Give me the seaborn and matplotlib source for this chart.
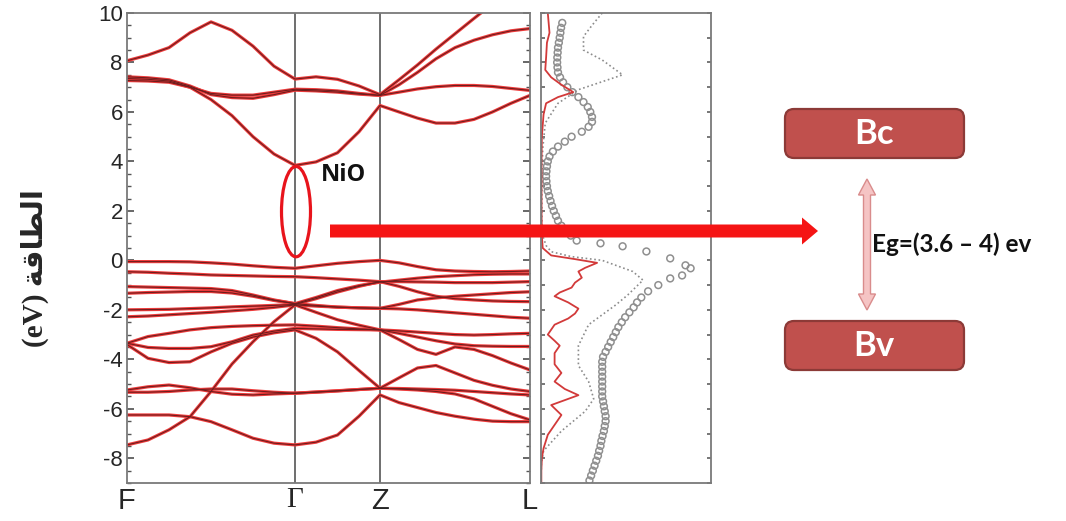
import numpy as np
import pandas as pd
import matplotlib
matplotlib.use("Agg")
import matplotlib.pyplot as plt
import seaborn as sns
from matplotlib.patches import Ellipse, FancyBboxPatch, FancyArrow, Polygon
from matplotlib.ticker import MultipleLocator

# ---------------- data ----------------
kgrid = [0.00, 0.21, 0.42, 0.63, 0.84, 1.05, 1.26, 1.47, 1.68, 1.89, 2.105, 2.32, 2.53,
         2.72, 2.905, 3.09, 3.28, 3.47, 3.655, 3.84, 4.03]
sym_k = [0.00, 1.68, 2.53, 4.03]
sym_labels = ["F", "\u0393", "Z", "L"]

c1 = [7.27, 7.25, 7.2, 7.0, 6.5, 5.85, 5.0, 4.3, 3.84, 3.98, 4.35, 5.2, 6.26, 6.0, 5.75, 5.55, 5.55, 5.7, 6.0, 6.35, 6.67]
c2 = [8.07, 8.3, 8.6, 9.2, 9.64, 9.3, 8.66, 7.85, 7.33, 7.42, 7.32, 7.05, 6.7, 7.3, 7.9, 8.54, 9.16, 9.78, 10.37, 11.0, 11.6]
c3 = [7.35, 7.32, 7.25, 7.0, 6.75, 6.68, 6.68, 6.8, 6.92, 6.9, 6.85, 6.75, 6.67, 7.1, 7.6, 8.15, 8.6, 8.9, 9.12, 9.28, 9.37]
c4 = [7.42, 7.38, 7.3, 7.05, 6.7, 6.58, 6.55, 6.7, 6.88, 6.85, 6.8, 6.72, 6.67, 6.8, 6.93, 7.02, 7.07, 7.07, 7.03, 6.95, 6.87]
v1 = [-0.05, -0.05, -0.05, -0.06, -0.1, -0.15, -0.22, -0.28, -0.32, -0.22, -0.12, -0.05, 0.0, -0.1, -0.25, -0.38, -0.43, -0.45, -0.46, -0.45, -0.43]
v2 = [-0.46, -0.48, -0.52, -0.55, -0.59, -0.61, -0.63, -0.65, -0.66, -0.7, -0.75, -0.8, -0.86, -0.86, -0.87, -0.88, -0.9, -0.9, -0.9, -0.88, -0.86]
v3 = [-1.06, -1.08, -1.1, -1.12, -1.14, -1.22, -1.4, -1.6, -1.75, -1.5, -1.22, -1.02, -0.88, -0.8, -0.72, -0.66, -0.62, -0.58, -0.56, -0.55, -0.55]
v4 = [-1.33, -1.3, -1.28, -1.26, -1.26, -1.32, -1.45, -1.62, -1.75, -1.82, -1.89, -1.92, -1.94, -1.78, -1.6, -1.52, -1.45, -1.4, -1.35, -1.3, -1.27]
v5 = [-2.0, -1.99, -1.98, -1.95, -1.92, -1.88, -1.85, -1.82, -1.78, -1.55, -1.28, -1.05, -0.86, -1.05, -1.27, -1.45, -1.55, -1.6, -1.64, -1.66, -1.67]
v6 = [-2.28, -2.25, -2.2, -2.15, -2.1, -2.04, -1.98, -1.9, -1.8, -1.85, -1.89, -1.92, -1.94, -1.96, -2.0, -2.06, -2.12, -2.18, -2.24, -2.3, -2.34]
v7 = [-3.35, -3.08, -2.95, -2.81, -2.72, -2.67, -2.64, -2.62, -2.61, -2.66, -2.72, -2.77, -2.81, -2.95, -3.1, -3.25, -3.38, -3.45, -3.47, -3.48, -3.48]
v8 = [-3.35, -3.52, -3.56, -3.56, -3.49, -3.29, -3.02, -2.86, -2.75, -2.77, -2.79, -2.8, -2.81, -3.2, -3.6, -3.8, -3.5, -3.6, -3.85, -4.15, -4.43]
v9 = [-3.4, -3.96, -4.13, -4.1, -3.7, -3.35, -3.1, -2.93, -2.81, -3.15, -3.7, -4.45, -5.17, -4.75, -4.35, -4.25, -4.55, -4.85, -5.05, -5.2, -5.3]
v10 = [-5.24, -5.11, -5.04, -5.15, -5.3, -5.41, -5.44, -5.4, -5.37, -5.33, -5.28, -5.22, -5.17, -5.18, -5.2, -5.22, -5.25, -5.3, -5.35, -5.4, -5.44]
v11 = [-5.33, -5.33, -5.3, -5.24, -5.2, -5.2, -5.27, -5.33, -5.37, -5.32, -5.27, -5.22, -5.17, -5.2, -5.24, -5.3, -5.4, -5.6, -5.9, -6.2, -6.45]
v12 = [-6.25, -6.25, -6.25, -6.32, -6.52, -6.85, -7.19, -7.39, -7.46, -7.35, -7.06, -6.3, -5.44, -5.75, -5.95, -6.15, -6.3, -6.42, -6.5, -6.52, -6.52]
v13 = [-7.46, -7.26, -6.85, -6.32, -5.3, -4.19, -3.29, -2.48, -1.8, -2.1, -2.4, -2.62, -2.81, -2.85, -2.9, -2.95, -3.0, -3.02, -3.0, -2.97, -2.95]

# DOS (arbitrary units), energies in eV
red_E = [10.0, 9.6, 9.2, 8.8, 8.2, 7.7, 7.4, 7.1, 6.8, 6.6, 6.35, 5.9, 5.0, 4.0, 2.0, 1.0, 0.5, 0.2, 0.05, -0.1,
         -0.3, -0.45, -0.7, -0.9, -1.1, -1.3, -1.45, -1.7, -1.95, -2.15, -2.35, -2.6, -3.0, -3.25, -3.45, -3.75,
         -4.2, -4.55, -4.9, -5.2, -5.45, -5.65, -5.85, -6.05, -6.25, -6.45, -6.65, -7.05, -7.6, -8.0, -8.5, -9.0]
red_dos = [0.4, 0.45, 0.5, 0.35, 0.3, 0.25, 0.6, 1.2, 1.9, 1.0, 0.3, 0.15, 0.05, 0.03, 0.03, 0.05, 0.1, 0.6, 2.0, 3.3,
           2.6, 2.2, 2.4, 2.0, 1.8, 1.1, 0.8, 1.6, 2.2, 2.0, 1.6, 0.8, 0.4, 0.8, 1.1, 0.8,
           0.8, 1.2, 0.8, 1.4, 2.2, 1.4, 0.6, 0.9, 1.2, 1.0, 0.8, 0.4, 0.15, 0.05, 0.02, 0.02]
dot_E = [10.0, 9.5, 9.05, 8.5, 8.1, 7.5, 6.9, 6.35, 5.55, 4.5, 3.0, 1.5, 1.0, 0.6, 0.35, 0.15, 0.0, -0.45, -0.8,
         -1.4, -1.8, -2.6, -3.45, -4.25, -4.9, -5.6, -6.1, -6.9, -7.7, -8.2, -9.0]
dot_dos = [3.6, 3.0, 2.5, 2.5, 3.6, 4.8, 2.2, 1.0, 0.25, 0.1, 0.05, 0.05, 0.1, 0.3, 0.6, 1.8, 3.6, 5.4, 6.0,
           5.1, 4.4, 2.8, 2.2, 2.2, 2.8, 3.1, 2.6, 1.2, 0.15, 0.02, 0.0]
circ_E = [9.6, 9.4, 9.2, 9.0, 8.8, 8.6, 8.4, 8.2, 8.0, 7.8, 7.6, 7.4, 7.2, 7.0, 6.8, 6.6, 6.4, 6.2, 6.0, 5.8,
          5.6, 5.4, 5.2, 5.0, 4.8, 4.6, 4.4, 4.2, 4.0, 3.8, 3.6, 3.4, 3.2, 3.0, 2.8, 2.6, 2.4, 2.2, 2.0, 1.8,
          1.6, 1.4, 1.2, 1.0, 0.8, 0.69, 0.57, 0.36, 0.08, -0.2, -0.32, -0.61, -0.73, -1.0, -1.25,
          -1.5, -1.7, -1.9, -2.1, -2.3, -2.5, -2.7, -2.9, -3.1, -3.3, -3.5, -3.7, -3.9, -4.1, -4.3, -4.5,
          -4.7, -4.9, -5.1, -5.3, -5.5, -5.7, -5.9, -6.1, -6.3, -6.5, -6.7, -6.9, -7.1, -7.3, -7.5, -7.7,
          -7.9, -8.1, -8.3, -8.5, -8.7, -8.9]
circ_dos = [1.25, 1.18, 1.14, 1.1, 1.05, 1.0, 0.98, 0.96, 0.95, 0.97, 1.0, 1.12, 1.3, 1.55, 1.85, 2.2, 2.5, 2.75, 2.9, 3.0,
            3.0, 2.8, 2.4, 1.8, 1.4, 1.0, 0.7, 0.5, 0.4, 0.35, 0.32, 0.3, 0.32, 0.35, 0.4, 0.48, 0.56, 0.65, 0.75, 0.88,
            1.0, 1.2, 1.45, 1.75, 2.1, 3.5, 4.8, 6.2, 7.6, 8.5, 8.8, 8.3, 7.6, 6.9, 6.3,
            5.9, 5.65, 5.45, 5.2, 4.95, 4.75, 4.55, 4.4, 4.25, 4.1, 3.95, 3.8, 3.65, 3.6, 3.6, 3.6,
            3.6, 3.6, 3.6, 3.6, 3.6, 3.65, 3.7, 3.75, 3.8, 3.8, 3.75, 3.7, 3.62, 3.55, 3.5, 3.42,
            3.35, 3.25, 3.15, 3.05, 2.95, 2.85]

ylabel_text = "(eV) \uFE94\uFED7\uFE8E\uFEC4\uFEDF\uFE8D"   # الطاقة (eV), pre-shaped for display
gap_text = "Eg=(3.6 \u2013 4) ev"

# ---------------- style ----------------
sns.set_theme(style="white")
plt.rcParams["font.family"] = ["Liberation Sans", "DejaVu Sans"]
plt.rcParams["axes.unicode_minus"] = False

bands = [c1, c2, c3, c4, v1, v2, v3, v4, v5, v6, v7, v8, v9, v10, v11, v12, v13]
df = pd.DataFrame({
    "k": np.tile(kgrid, len(bands)),
    "E": np.concatenate(bands),
    "band": np.repeat(np.arange(len(bands)), len(kgrid)),
})

fig = plt.figure(figsize=(10.66, 5.21), dpi=100)
W, H = 1066.0, 521.0
ax = fig.add_axes([127 / W, 38 / H, 403 / W, 470 / H])
axd = fig.add_axes([541 / W, 38 / H, 170 / W, 470 / H])

# band structure
sns.lineplot(data=df, x="k", y="E", units="band", estimator=None, sort=False,
             color="#ee3b3b", lw=2.3, ax=ax, solid_joinstyle="round")
sns.lineplot(data=df, x="k", y="E", units="band", estimator=None, sort=False,
             color="#6e1d1d", lw=0.8, ax=ax, solid_joinstyle="round")
for kk in sym_k[1:3]:
    ax.axvline(kk, color="#555555", lw=1.2, zorder=0)
ax.set_xlim(sym_k[0], sym_k[-1])
ax.set_ylim(-9, 10)
ax.set_xlabel("")
ax.set_ylabel("")
ax.set_yticks(range(-8, 11, 2))
ax.yaxis.set_minor_locator(MultipleLocator(0.5))
ax.tick_params(axis="y", which="both", direction="in", left=True, right=True, labelsize=16,
               color="#555555", pad=3)
ax.tick_params(axis="y", which="major", length=5)
ax.tick_params(axis="y", which="minor", length=3)
ax.set_xticks(sym_k)
ax.set_xticklabels(sym_labels)
ax.tick_params(axis="x", length=0, labelsize=21, pad=3)
for lab in ax.get_xticklabels():
    if lab.get_text() == "\u0393":
        lab.set_fontfamily(["Liberation Serif", "DejaVu Serif"])
for sp in ax.spines.values():
    sp.set_color("#7a7a7a")
    sp.set_linewidth(1.3)

ell = Ellipse((sym_k[1] + 0.01, 1.97), width=0.29, height=3.65, fill=False,
              ec="#e8141c", lw=2.3, zorder=5, clip_on=False)
ax.add_patch(ell)
ax.text(sym_k[1] + 0.26, 3.45, "NiO", fontsize=17, fontweight="bold", color="#111111",
        va="center", ha="left", family=["Open Sans", "DejaVu Sans"])

# DOS panel
sns.lineplot(x=dot_dos, y=dot_E, sort=False, estimator=None, color="#8c8c8c",
             lw=1.2, linestyle=(0, (1, 1.6)), ax=axd)
sns.scatterplot(x=circ_dos, y=circ_E, marker="o", s=24, facecolor="none",
                edgecolor="#8f8f8f", linewidth=1.1, ax=axd)
sns.lineplot(x=red_dos, y=red_E, sort=False, estimator=None, color="#d23a3a",
             lw=1.3, ax=axd)
axd.set_xlim(0, 10)
axd.set_ylim(-9, 10)
axd.set_xlabel("")
axd.set_ylabel("")
axd.set_xticks([])
axd.set_yticks(range(-9, 11, 1))
axd.set_yticklabels([])
axd.tick_params(axis="y", direction="in", left=True, right=True, length=3, color="#666666")
for sp in axd.spines.values():
    sp.set_color("#7a7a7a")
    sp.set_linewidth(1.3)

# overlay (pixel coordinates) for the schematic
ov = fig.add_axes([0, 0, 1, 1], facecolor="none", zorder=10)
ov.set_xlim(0, W)
ov.set_ylim(H, 0)
ov.axis("off")

ov.add_patch(FancyArrow(330, 231, 488, 0, width=13, head_width=27, head_length=16,
                        length_includes_head=True, color="#f51414", lw=0))

for y0, txt in [(109, "Bc"), (321, "Bv")]:
    ov.add_patch(FancyBboxPatch((785, y0), 179, 49, boxstyle="round,pad=0,rounding_size=9",
                                fc="#c0504d", ec="#8c3a37", lw=1.6))
    ov.text(874, y0 + 25, txt, color="white", fontsize=25, fontweight="bold",
            ha="center", va="center", family=["Lato", "DejaVu Sans"])

arrow_pts = [(867, 179), (875.5, 195), (870.5, 195), (870.5, 294), (875.5, 294), (867, 310),
             (858.5, 294), (863.5, 294), (863.5, 195), (858.5, 195)]
ov.add_patch(Polygon(arrow_pts, closed=True, fc="#f5c4c4", ec="#d98c8c", lw=1.0))
ov.text(872, 244, gap_text, fontsize=17.5, fontweight="bold", color="#111111",
        ha="left", va="center", family=["Lato", "DejaVu Sans"])

fig.text(35 / W, 1 - 268 / H, ylabel_text, rotation=90, fontsize=21, fontweight="bold",
         ha="center", va="center", family=["Liberation Serif", "DejaVu Sans"])

fig.savefig("out.png", dpi=100, facecolor="white")
